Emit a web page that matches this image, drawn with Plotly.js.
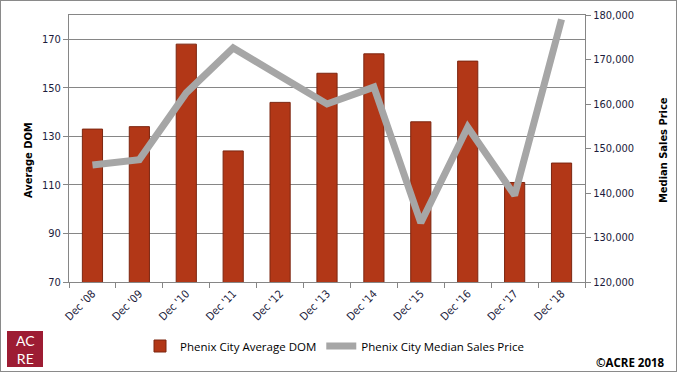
<!DOCTYPE html>
<html>
<head>
<meta charset="utf-8">
<script src="https://cdn.plot.ly/plotly-3.0.1.min.js"></script>
<style>
html,body{margin:0;padding:0;background:#fff;}
#wrap{position:relative;width:677px;height:372px;}
#chart{width:677px;height:372px;}
#frame{position:absolute;left:0;top:0;width:677px;height:372px;box-sizing:border-box;border:1px solid #8a8a8a;pointer-events:none;}
</style>
</head>
<body>
<div id="wrap"><div id="chart"></div><div id="frame"></div></div>
<script>
const categories = ["Dec '08","Dec '09","Dec '10","Dec '11","Dec '12","Dec '13","Dec '14","Dec '15","Dec '16","Dec '17","Dec '18"];
const avgDOM = [133, 134, 168, 124, 144, 156, 164, 136, 161, 111, 119];
const medianPrice = [146300, 147500, 162500, 172600, 166300, 160000, 163800, 133300, 154800, 139500, 179000];
const leftTicks = [70, 90, 110, 130, 150, 170];
const rightTicks = [120000, 130000, 140000, 150000, 160000, 170000, 180000];

const tickFont = {family: '"DejaVu Sans Condensed", "DejaVu Sans", sans-serif', size: 11, color: '#1c1c3c'};
const titleFont = {family: '"DejaVu Sans Condensed", "DejaVu Sans", sans-serif', size: 11, color: '#000'};
const legFont = {family: '"Open Sans", "Noto Sans", sans-serif', size: 11.5, color: '#000'};

const traces = [
  {
    type: 'bar', x: categories, y: avgDOM, name: 'Phenix City Average DOM',
    marker: {color: '#b23717', line: {color: '#7c2610', width: 1}},
    yaxis: 'y', hoverinfo: 'skip'
  },
  {
    type: 'scatter', mode: 'lines', x: categories, y: medianPrice, name: 'Phenix City Median Sales Price',
    line: {color: '#a6a6a6', width: 7}, yaxis: 'y2', hoverinfo: 'skip'
  }
];

const W = 516, H = 267, L = 69, T = 15;
const px = v => (v - L) / W;
const py = v => (T + H - v) / H;

const layout = {
  width: 677, height: 372,
  margin: {l: 69, r: 92, t: 15, b: 90},
  paper_bgcolor: '#fff', plot_bgcolor: '#fff',
  showlegend: true,
  bargap: 0.57,
  xaxis: {
    type: 'category', tickangle: -45, tickfont: tickFont,
    showline: true, linecolor: '#868686', linewidth: 1, mirror: true,
    ticks: 'outside', ticklen: 5, tickcolor: '#868686', tickson: 'boundaries',
    showgrid: false, fixedrange: true
  },
  yaxis: {
    range: [70, 180], tickvals: leftTicks, tickfont: tickFont,
    showline: true, linecolor: '#868686', ticks: 'outside', ticklen: 5, tickcolor: '#868686',
    showgrid: true, gridcolor: '#868686', gridwidth: 1, zeroline: false, fixedrange: true
  },
  yaxis2: {
    overlaying: 'y', side: 'right', range: [120000, 180000], tickvals: rightTicks,
    tickformat: ',d', tickfont: tickFont,
    showline: true, linecolor: '#868686', ticks: 'outside', ticklen: 5, tickcolor: '#868686',
    showgrid: false, zeroline: false, fixedrange: true
  },
  legend: {
    orientation: 'h', xref: 'container', yref: 'container',
    x: 140/677, y: 1 - 346/372, xanchor: 'left', yanchor: 'middle',
    font: legFont, bgcolor: 'rgba(0,0,0,0)', itemwidth: 30, traceorder: 'normal'
  },
  annotations: [
    {text: '<b>Average DOM</b>', xref: 'paper', yref: 'paper', x: px(28), y: py(160), textangle: -90,
     showarrow: false, font: titleFont, xanchor: 'center', yanchor: 'middle'},
    {text: '<b>Median Sales Price</b>', xref: 'paper', yref: 'paper', x: px(663), y: py(150), textangle: -90,
     showarrow: false, font: titleFont, xanchor: 'center', yanchor: 'middle'},
    {text: 'AC<br>RE', xref: 'paper', yref: 'paper', x: px(25), y: py(349.5), showarrow: false, align: 'center',
     font: {family: 'Lato, "Open Sans", sans-serif', size: 14, color: '#fff'}, xanchor: 'center', yanchor: 'middle'},
    {text: '<b>©ACRE 2018</b>', xref: 'paper', yref: 'paper', x: px(667), y: py(362), showarrow: false,
     font: {family: '"Open Sans", "Noto Sans", sans-serif', size: 11.5, color: '#000'}, xanchor: 'right', yanchor: 'middle'}
  ],
  shapes: [
    {type: 'rect', xref: 'paper', yref: 'paper', x0: px(7), x1: px(43), y0: py(331), y1: py(367),
     fillcolor: '#9d1c33', line: {width: 0}, layer: 'below'}
  ]
};

Plotly.newPlot('chart', traces, layout, {staticPlot: true, displayModeBar: false});
</script>
</body>
</html>
